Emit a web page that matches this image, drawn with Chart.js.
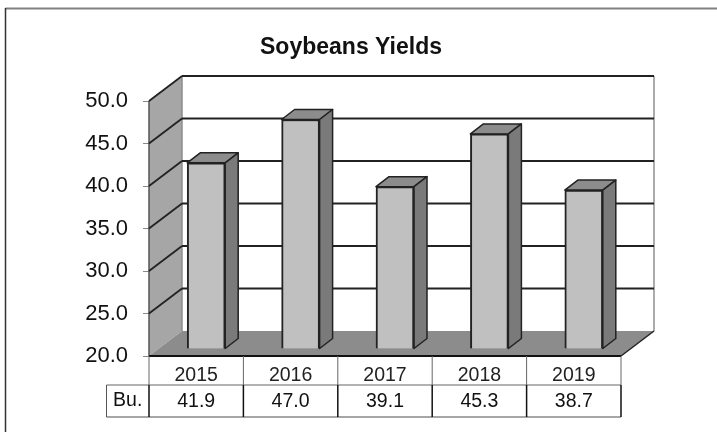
<!DOCTYPE html>
<html>
<head>
<meta charset="utf-8">
<style>
html, body { margin: 0; padding: 0; background: #fff; }
#wrap { position: relative; width: 717px; height: 432px; }
</style>
<script src="https://cdn.jsdelivr.net/npm/chart.js@4/dist/chart.umd.min.js"></script>
</head>
<body>
<div id="wrap"><canvas id="myChart" width="717" height="432"></canvas></div>
<script>
const years = ["2015", "2016", "2017", "2018", "2019"];
const yields = [41.9, 47.0, 39.1, 45.3, 38.7];
const yTicks = [20, 25, 30, 35, 40, 45, 50];
const rowLabel = "Bu.";
const chartTitle = "Soybeans Yields";

// depth of the fake 3d box
const wallDx = 33, wallDy = -25;
const barShiftX = 10, barShiftY = -7;
const barDx = 13, barDy = -10;

const font = "Liberation Sans, Arial, sans-serif";

function line(ctx, x1, y1, x2, y2, color, width) {
    ctx.strokeStyle = color;
    ctx.lineWidth = width;
    ctx.beginPath();
    ctx.moveTo(x1, y1);
    ctx.lineTo(x2, y2);
    ctx.stroke();
}

function poly(ctx, pts, fill, stroke, width) {
    ctx.beginPath();
    ctx.moveTo(pts[0][0], pts[0][1]);
    for (let i = 1; i < pts.length; i++) {
        ctx.lineTo(pts[i][0], pts[i][1]);
    }
    ctx.closePath();
    ctx.fillStyle = fill;
    ctx.fill();
    if (stroke) {
        ctx.strokeStyle = stroke;
        ctx.lineWidth = width;
        ctx.lineJoin = "round";
        ctx.stroke();
    }
}

const boxPlugin = {
    id: "box",
    beforeDraw(chart) {
        const ctx = chart.ctx;
        ctx.save();
        ctx.fillStyle = "#fff";
        ctx.fillRect(0, 0, chart.width, chart.height);
        line(ctx, 5.5, 8.5, 717, 8.5, "#808080", 2);
        line(ctx, 5.5, 8, 5.5, 432, "#333", 1.5);
        ctx.restore();
    },
    beforeDatasetsDraw(chart) {
        const ctx = chart.ctx;
        const a = chart.chartArea;
        const y = chart.scales.y;
        const top = y.getPixelForValue(50), bottom = y.getPixelForValue(20);
        ctx.save();
        // left wall, floor
        poly(ctx, [[a.left, bottom], [a.left + wallDx, bottom + wallDy], [a.left + wallDx, top + wallDy], [a.left, top]], "#a6a6a6");
        poly(ctx, [[a.left, bottom], [a.right, bottom], [a.right + wallDx, bottom + wallDy], [a.left + wallDx, bottom + wallDy]], "#8c8c8c");
        line(ctx, a.left + wallDx, top + wallDy, a.left + wallDx, bottom + wallDy, "#8c8c8c", 1.5);
        line(ctx, a.right + wallDx, top + wallDy, a.right + wallDx, bottom + wallDy, "#909090", 1.5);
        line(ctx, a.left, top, a.left, bottom, "#555", 1.5);
        line(ctx, a.right, bottom, a.right + wallDx, bottom + wallDy, "#222", 1.5);
        // gridlines go along the left wall and the back
        yTicks.forEach(v => {
            const py = y.getPixelForValue(v);
            if (v > 20) {
                line(ctx, a.left, py, a.left + wallDx, py + wallDy, "#222", 1.8);
                line(ctx, a.left + wallDx, py + wallDy, a.right + wallDx, py + wallDy, "#222", 1.8);
            }
        });
        line(ctx, a.left, bottom, a.right, bottom, "#111", 2);
        ctx.restore();
    },
    beforeDatasetDraw(chart) {
        const ctx = chart.ctx;
        ctx.save();
        ctx.translate(barShiftX, barShiftY);
        // top and side of each bar, the front face comes from chart.js
        chart.getDatasetMeta(0).data.forEach(bar => {
            const l = bar.x - bar.width / 2, r = bar.x + bar.width / 2;
            poly(ctx, [[l, bar.y], [l + barDx, bar.y + barDy], [r + barDx, bar.y + barDy], [r, bar.y]], "#8c8c8c", "#222", 1.5);
            poly(ctx, [[r, bar.y], [r + barDx, bar.y + barDy], [r + barDx, bar.base + barDy], [r, bar.base]], "#7a7a7a", "#222", 1.5);
        });
    },
    afterDatasetDraw(chart) {
        chart.ctx.restore();
    },
    afterDraw(chart) {
        const ctx = chart.ctx;
        const a = chart.chartArea;
        const x = chart.scales.x;
        const step = (a.right - a.left) / years.length;
        const rowTop = 385, rowBottom = 417, labelLeft = 106.5;
        ctx.save();
        // data table below the axis
        line(ctx, labelLeft, rowTop, a.right, rowTop, "#999", 1.5);
        line(ctx, labelLeft, rowBottom, a.right, rowBottom, "#888", 1.5);
        line(ctx, labelLeft, rowTop, labelLeft, rowBottom, "#555", 1);
        for (let i = 0; i <= years.length; i++) {
            const px = a.left + step * i;
            line(ctx, px, a.bottom, px, rowTop, "#666", 1);
            line(ctx, px, rowTop, px, rowBottom, "#111", 1.5);
        }
        ctx.fillStyle = "#111";
        ctx.font = "19.5px " + font;
        ctx.textAlign = "center";
        ctx.textBaseline = "middle";
        yields.forEach((v, i) => {
            ctx.fillText(v.toFixed(1), x.getPixelForValue(i), (rowTop + rowBottom) / 2 + 0.5);
        });
        ctx.fillText(rowLabel, (labelLeft + a.left) / 2, (rowTop + rowBottom) / 2);
        ctx.restore();
    }
};

new Chart(document.getElementById("myChart"), {
    type: "bar",
    data: {
        labels: years,
        datasets: [{
            data: yields,
            base: 20,
            clip: false,
            backgroundColor: "#c0c0c0",
            borderColor: "#222",
            borderWidth: 2,
            barThickness: 38
        }]
    },
    options: {
        responsive: false,
        animation: false,
        events: [],
        layout: { padding: { top: 34, left: 0, right: 15, bottom: 36 } },
        plugins: {
            legend: { display: false },
            tooltip: { enabled: false },
            title: {
                display: true,
                text: chartTitle,
                color: "#111",
                font: { family: font, size: 23, weight: "bold" },
                padding: { top: 0, bottom: 39.4 }
            }
        },
        scales: {
            x: {
                grid: { display: false },
                border: { display: false },
                afterFit(axis) {
                    axis.height = 40;
                },
                ticks: { color: "#222", font: { family: font, size: 19.5 }, padding: 0, maxRotation: 0 }
            },
            y: {
                min: 20,
                max: 50,
                afterBuildTicks(axis) {
                    axis.ticks = yTicks.map(v => ({ value: v }));
                },
                afterFit(axis) {
                    axis.width = 149;
                },
                grid: { drawOnChartArea: false, tickLength: 6, color: "#888" },
                border: { display: false },
                ticks: {
                    color: "#111",
                    font: { family: font, size: 22 },
                    padding: 15,
                    callback: v => v.toFixed(1)
                }
            },
            // empty axis, only holds the room right of the table so the title stays centred
            spacer: {
                position: "right",
                grid: { display: false },
                border: { display: false },
                ticks: { display: false },
                afterFit(axis) {
                    axis.width = 81;
                }
            }
        }
    },
    plugins: [boxPlugin]
});
</script>
</body>
</html>
